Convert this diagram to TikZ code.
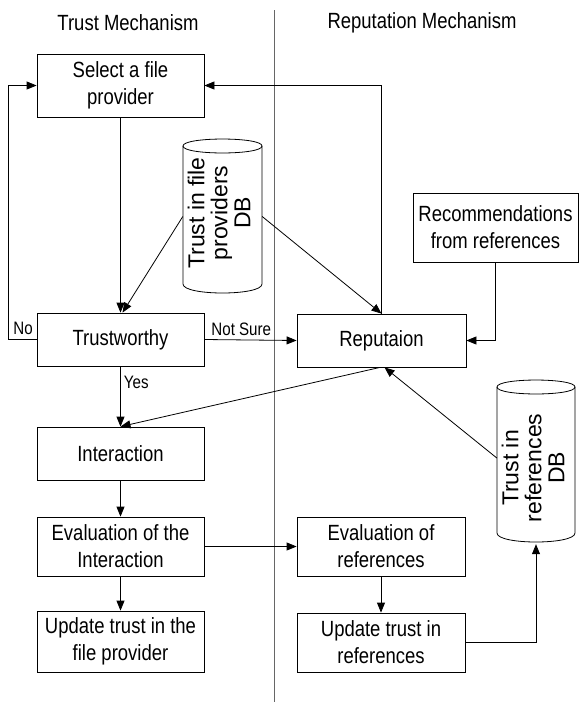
\documentclass[tikz,border=0pt]{standalone}
\usepackage{fontspec}
\setmainfont{Liberation Sans}
\newfontfamily\condf[FakeStretch=0.84]{Liberation Sans}
\usetikzlibrary{arrows.meta}
\begin{document}
\begin{tikzpicture}[x=1pt,y=-1pt,
  box/.style={draw, line width=0.8pt, inner sep=0pt, align=center,
    font=\condf\fontsize{22}{27}\selectfont},
  title/.style={inner sep=0pt, font=\condf\fontsize{22}{27}\selectfont},
  lbl/.style={inner sep=0pt, font=\condf\fontsize{18}{20}\selectfont},
  conn/.style={line width=0.8pt, -{Triangle[length=10pt,width=8pt]}},
  dbnode/.style={inner sep=0pt},
  dbtext/.style={rotate=90, align=center, inner sep=0pt, font=\fontsize{23}{23}\selectfont},
  dbline/.style={line width=0.8pt},
]
\useasboundingbox (0,0) rectangle (579,702);

% divider and titles
\draw[gray!80!black, line width=1pt] (274,10) -- (274,702);
\node[title] (t1) at (128,23) {Trust Mechanism};
\node[title] (t2) at (422,23) {Reputation Mechanism};

% left column boxes
\node[box, minimum width=167pt, minimum height=63pt] (sel) at (120.5,85.5) {Select a file\\provider};
\node[box, minimum width=167pt, minimum height=53pt] (tw) at (120.5,339.5) {Trustworthy};
\node[box, minimum width=167pt, minimum height=53pt] (int) at (120.5,453.5) {Interaction};
\node[box, minimum width=167pt, minimum height=59pt] (evi) at (120.5,546.5) {Evaluation of the\\Interaction};
\node[box, minimum width=167pt, minimum height=61pt] (upi) at (120.5,641.5) {Update trust in the\\file provider};

% right column boxes
\node[box, minimum width=169pt, minimum height=53pt] (rep) at (381.5,340.5) {Reputaion};
\node[box, minimum width=165pt, minimum height=69pt] (rec) at (495.5,227.5) {Recommendations\\from references};
\node[box, minimum width=168pt, minimum height=59pt] (evr) at (381,546.5) {Evaluation of\\references};
\node[box, minimum width=168pt, minimum height=59pt] (upr) at (381,642.5) {Update trust in\\references};

% database 1
\draw[dbline] (183,146) .. controls (183,136.7) and (262,136.7) .. (262,146)
  -- (262,284) .. controls (262,296) and (183,296) .. (183,284) -- cycle;
\draw[dbline] (183,146) .. controls (183,155.3) and (262,155.3) .. (262,146);
\node[dbnode, minimum width=79pt, minimum height=157pt] (db1) at (222.5,216.5) {};
\node[dbtext] (db1t) at (219,213) {Trust in file\\providers\\DB};

% database 2
\draw[dbline] (497,387) .. controls (497,377.7) and (575,377.7) .. (575,387)
  -- (575,533) .. controls (575,545) and (497,545) .. (497,533) -- cycle;
\draw[dbline] (497,387) .. controls (497,396.3) and (575,396.3) .. (575,387);
\node[dbnode, minimum width=78pt, minimum height=164pt] (db2) at (536,462) {};
\node[dbtext] (db2t) at (533,468) {Trust in\\references\\DB};

% connectors
\draw[conn] (sel.south) -- (tw.north);
\draw[conn] (db1.west) -- ([xshift=2pt]tw.north);
\draw[conn] (db1.east) -- (rep.north);
\draw[conn] (rep.north) |- (sel.east);
\draw[conn] (tw.west) -- ++(-28,0) |- (sel.west);
\node[lbl] (no) at (23,328) {No};
\draw[conn] (tw.east) -- node[lbl, pos=0.4, above=4pt] (ns) {Not Sure} (rep.west);
\draw[conn] (rec.south) |- (rep.east);
\draw[conn] (tw.south) -- node[lbl, pos=0.27, right=3pt] (yes) {Yes} (int.north);
\draw[conn] ([xshift=-1.5pt]rep.south) -- (int.north);
\draw[conn] (int.south) -- (evi.north);
\draw[conn] (evi.south) -- (upi.north);
\draw[conn] (evi.east) -- (evr.west);
\draw[conn] (evr.south) -- (upr.north);
\draw[conn] (upr.east) -| (db2.south);
\draw[conn] ([yshift=4pt]db2.west) -- ([xshift=3pt]rep.south);
\end{tikzpicture}
\end{document}
